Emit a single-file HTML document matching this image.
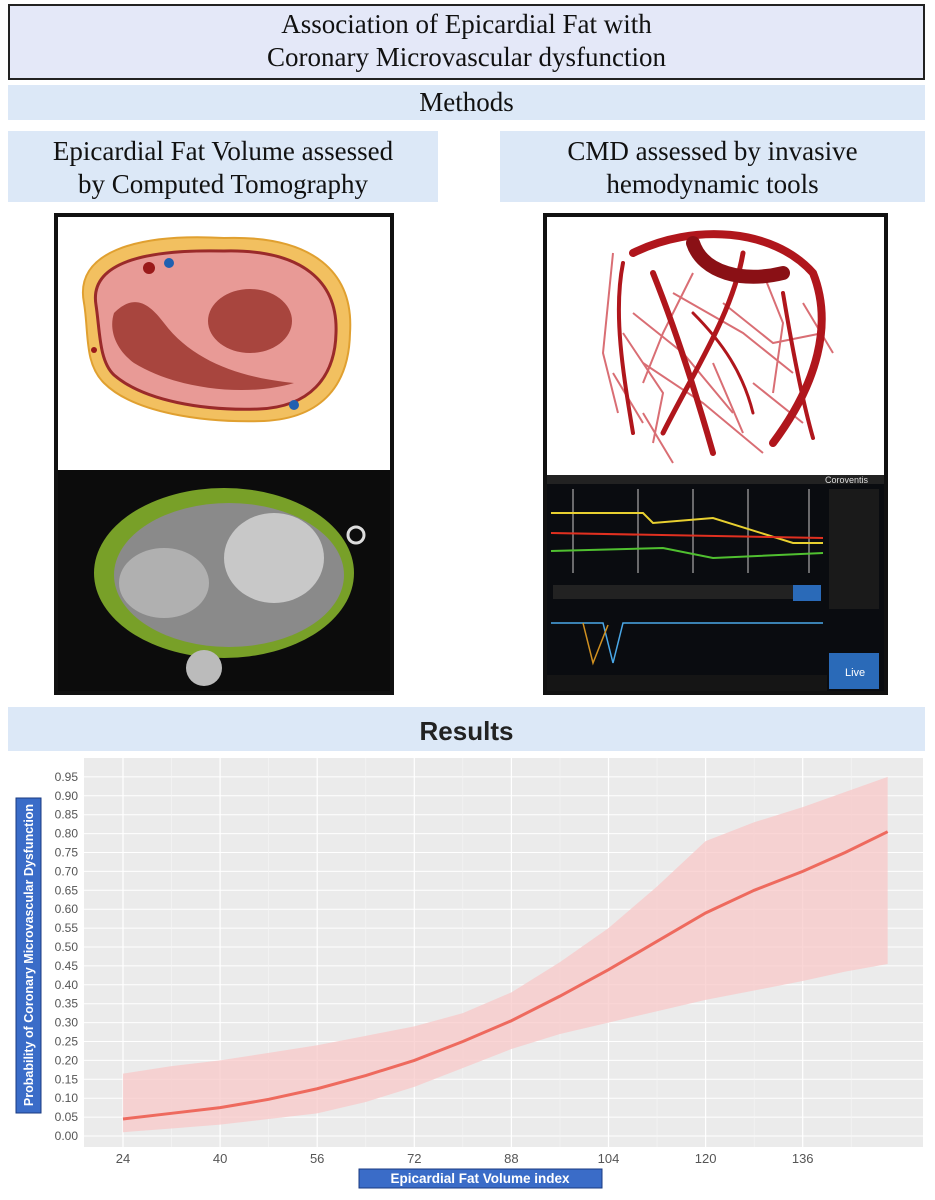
<!DOCTYPE html>
<html><head><meta charset="utf-8"><style>
body{margin:0;background:#fff;width:935px;height:1200px;position:relative;overflow:hidden;font-family:"Liberation Serif",serif}
.box{position:absolute;text-align:center;color:#111}
</style></head><body>
<div class="box" style="left:8px;top:4px;width:913px;height:70px;border:2px solid #222;background:#e4e8f8;font-size:27px;line-height:33px;padding-top:2px;box-sizing:content-box">Association of Epicardial Fat with<br>Coronary Microvascular dysfunction</div>
<div class="box" style="left:8px;top:85px;width:917px;height:35px;background:#dce8f7;font-size:27px;line-height:35px">Methods</div>
<div class="box" style="left:8px;top:131px;width:430px;height:71px;background:#dce8f7;font-size:27px;line-height:33px;padding-top:4px;box-sizing:border-box">Epicardial Fat Volume assessed<br>by Computed Tomography</div>
<div class="box" style="left:500px;top:131px;width:425px;height:71px;background:#dce8f7;font-size:27px;line-height:33px;padding-top:4px;box-sizing:border-box">CMD assessed by invasive<br>hemodynamic tools</div>

<svg style="position:absolute;left:54px;top:213px" width="340" height="482">
<rect x="0" y="0" width="340" height="482" fill="#111"/>
<rect x="4" y="4" width="332" height="253" fill="#fff"/>
<path d="M30,90 C20,40 80,20 170,25 C260,22 300,60 296,120 C295,170 270,205 210,208 C150,210 80,200 50,170 C30,150 35,120 30,90Z" fill="#f2c060" stroke="#e0a030" stroke-width="2"/>
<path d="M42,92 C35,50 90,36 170,38 C250,36 284,70 282,120 C281,165 255,194 205,196 C150,198 90,188 60,162 C45,148 46,118 42,92Z" fill="#e89a96" stroke="#9a2a2a" stroke-width="3"/>
<path d="M60,100 C80,80 95,90 110,110 C140,150 190,165 240,170 C190,185 120,175 80,150 C60,135 55,115 60,100Z" fill="#a8453e"/>
<ellipse cx="196" cy="108" rx="42" ry="32" fill="#a8453e"/>
<circle cx="95" cy="55" r="6" fill="#9a1a1a"/><circle cx="115" cy="50" r="5" fill="#2060b0"/>
<circle cx="240" cy="192" r="5" fill="#2060b0"/><circle cx="40" cy="137" r="3" fill="#9a1a1a"/>
<rect x="4" y="257" width="332" height="221" fill="#0c0c0c"/>
<ellipse cx="170" cy="360" rx="130" ry="85" fill="#78a028"/>
<ellipse cx="175" cy="362" rx="115" ry="72" fill="#8a8a8a"/>
<ellipse cx="220" cy="345" rx="50" ry="45" fill="#c8c8c8"/>
<ellipse cx="110" cy="370" rx="45" ry="35" fill="#b0b0b0"/>
<circle cx="150" cy="455" r="18" fill="#bbb"/><circle cx="302" cy="322" r="8" fill="none" stroke="#ddd" stroke-width="3"/>
</svg>

<svg style="position:absolute;left:543px;top:213px" width="345" height="482">
<rect x="0" y="0" width="345" height="482" fill="#111"/>
<rect x="4" y="4" width="337" height="258" fill="#fff"/>
<g fill="none" stroke="#d04a52" stroke-width="2" opacity="0.8">
<path d="M70,40 L60,140 L75,200"/><path d="M130,80 L200,120 L250,160"/><path d="M100,150 L160,190 L220,240"/><path d="M180,90 L230,130 L280,120"/><path d="M90,100 L140,140 L190,200"/><path d="M210,170 L260,210"/><path d="M100,200 L130,250"/>
<path d="M80,120 L120,180 L110,230"/><path d="M150,60 L120,120 L100,170"/><path d="M220,60 L240,110 L230,180"/><path d="M260,90 L290,140"/><path d="M170,150 L200,220"/><path d="M70,160 L100,210"/>
</g>
<g fill="none" stroke="#b0161c" stroke-linecap="round">
<path d="M90,40 C150,10 230,15 270,60 C290,110 275,170 230,230" stroke-width="8"/>
<path d="M110,60 C130,110 150,170 170,240" stroke-width="6"/>
<path d="M200,40 C190,100 150,160 120,220" stroke-width="5"/>
<path d="M80,50 C70,100 80,160 90,220" stroke-width="4"/>
<path d="M240,80 C250,140 260,190 270,225" stroke-width="4"/>
<path d="M150,100 C180,130 200,160 210,200" stroke-width="3"/>
<path d="M150,30 C160,60 200,70 240,60" stroke-width="14" stroke="#8a1015"/>
</g>
<rect x="4" y="262" width="337" height="216" fill="#0a0c10"/>
<rect x="4" y="262" width="337" height="9" fill="#222"/>
<text x="282" y="270" fill="#ddd" font-size="9" font-family="Liberation Sans">Coroventis</text>
<rect x="286" y="276" width="50" height="120" fill="#1a1a1a"/>
<rect x="286" y="440" width="50" height="36" fill="#2a6ab8"/>
<text x="302" y="463" fill="#fff" font-size="11" font-family="Liberation Sans">Live</text>
<g stroke="#aaa" stroke-width="1.2"><line x1="30" y1="276" x2="30" y2="360"/><line x1="95" y1="276" x2="95" y2="360"/><line x1="150" y1="276" x2="150" y2="360"/><line x1="205" y1="276" x2="205" y2="360"/><line x1="266" y1="276" x2="266" y2="360"/></g>
<path d="M8,300 L100,300 L110,310 L170,305 L250,330 L280,330" stroke="#e8d030" stroke-width="2" fill="none"/>
<path d="M8,320 L280,325" stroke="#e03020" stroke-width="2" fill="none"/>
<path d="M8,338 L120,335 L170,345 L280,340" stroke="#50c030" stroke-width="2" fill="none"/>
<rect x="10" y="372" width="240" height="14" fill="#222"/>
<rect x="250" y="372" width="28" height="16" fill="#2a6ab8"/>
<path d="M8,410 L60,410 L70,450 L80,410 L280,410" stroke="#4aa8e8" stroke-width="1.5" fill="none"/>
<path d="M40,410 L50,450 L65,412" stroke="#d09020" stroke-width="1.5" fill="none"/>
<rect x="4" y="462" width="280" height="16" fill="#151515"/>
</svg>

<div class="box" style="left:8px;top:707px;width:917px;height:44px;background:#dce8f7;font-family:'Liberation Sans',sans-serif;font-weight:bold;font-size:26px;line-height:48px;color:#222">Results</div>

<svg id="chart" style="position:absolute;left:0;top:752px" width="935" height="448" font-family="Liberation Sans, sans-serif"></svg>
<script>
const xTicks=[24,40,56,72,88,104,120,136];
const yTicks=[0,0.05,0.1,0.15,0.2,0.25,0.3,0.35,0.4,0.45,0.5,0.55,0.6,0.65,0.7,0.75,0.8,0.85,0.9,0.95];
const xs=[24,32,40,48,56,64,72,80,88,96,104,112,120,128,136,143,150];
const fit=[0.045,0.06,0.075,0.097,0.125,0.16,0.2,0.25,0.305,0.37,0.44,0.515,0.59,0.65,0.70,0.75,0.805];
const upper=[0.165,0.185,0.20,0.22,0.24,0.265,0.29,0.325,0.38,0.46,0.55,0.66,0.78,0.83,0.87,0.91,0.95];
const lower=[0.01,0.02,0.03,0.045,0.06,0.09,0.13,0.18,0.23,0.27,0.30,0.33,0.36,0.385,0.41,0.435,0.455];
const OY=752;
const X=v=>123+(v-24)/16*97.1;
const Y=v=>1136-OY-v/0.05*18.9;
const svg=document.getElementById('chart');const NS='http://www.w3.org/2000/svg';
function mk(t,a){const e=document.createElementNS(NS,t);for(const k in a)e.setAttribute(k,a[k]);svg.appendChild(e);return e;}
const bg=mk('rect',{x:84,y:6,width:839,height:389,fill:'#ebebeb'});


yTicks.forEach(t=>{const g=mk('line',{x1:84,x2:923,y1:Y(t),y2:Y(t),stroke:'#fff','stroke-width':1});


const l=mk('text',{x:78,y:Y(t)+4,'text-anchor':'end','font-size':12,fill:'#555'});l.textContent=t.toFixed(2);

});
xTicks.forEach(t=>{const g=mk('line',{x1:X(t),x2:X(t),y1:6,y2:395,stroke:'#fff','stroke-width':1.2});


const m=mk('line',{x1:X(t+8),x2:X(t+8),y1:6,y2:395,stroke:'#f6f6f6','stroke-width':0.6});


const l=mk('text',{x:X(t),y:411,'text-anchor':'middle','font-size':13,fill:'#555'});l.textContent=t;

});
let d='M'+xs.map((x,i)=>X(x)+','+Y(upper[i])).join('L');
for(let i=xs.length-1;i>=0;i--)d+='L'+X(xs[i])+','+Y(lower[i]);
const band=mk('path',{d:d+'Z',fill:'#f8c8c8',opacity:0.75});


const line=mk('path',{d:'M'+xs.map((x,i)=>X(x)+','+Y(fit[i])).join('L'),fill:'none',stroke:'#ee6a5e','stroke-width':3});


const yb=mk('rect',{x:16,y:46,width:25,height:315,fill:'#3a6cc8',stroke:'#1a3a80'});


const yt=mk('text',{x:0,y:0,transform:'translate(33,203) rotate(-90)','text-anchor':'middle','font-size':12.5,'font-weight':'bold',fill:'#fff'});yt.textContent='Probability of Coronary Microvascular Dysfunction';


const xb=mk('rect',{x:359,y:417,width:243,height:19,fill:'#3a6cc8',stroke:'#1a3a80'});


const xt=mk('text',{x:480,y:431,'text-anchor':'middle','font-size':13.5,'font-weight':'bold',fill:'#fff'});xt.textContent='Epicardial Fat Volume index';


</script>
</body></html>
